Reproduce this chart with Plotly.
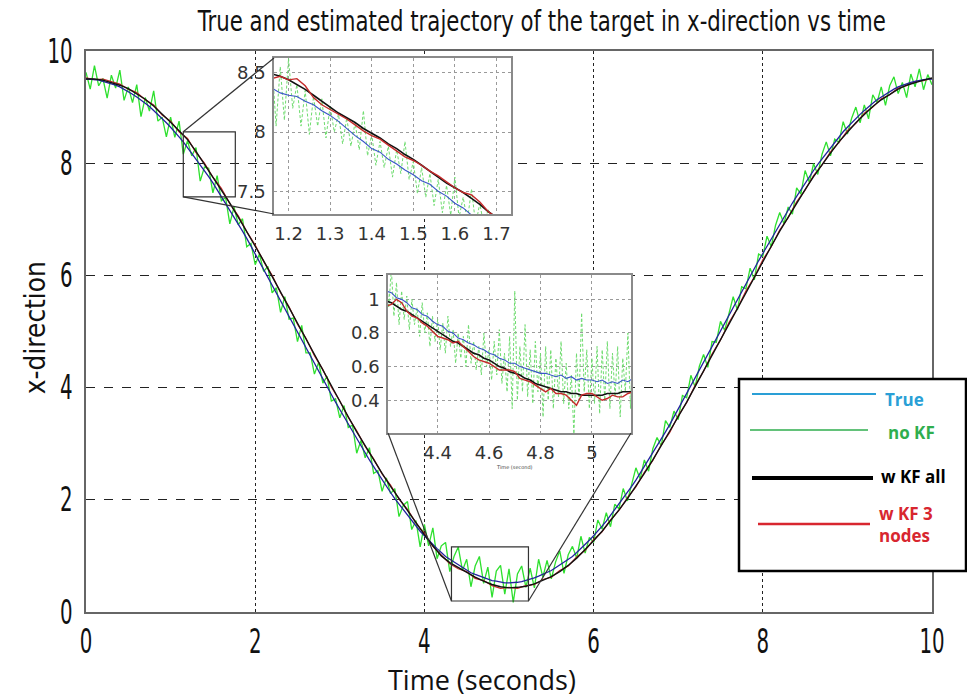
import numpy as np
import plotly.graph_objects as go

W, H = 967, 698

# ---------------- main trajectory (0 .. 10 s) ----------------
# true target position, one sample every 0.05 s
true_x = [
    9.50, 9.50, 9.49, 9.48, 9.46, 9.44, 9.42, 9.39, 9.36, 9.32,
    9.28, 9.23, 9.18, 9.13, 9.07, 9.01, 8.94, 8.87, 8.80, 8.72,
    8.64, 8.56, 8.47, 8.38, 8.28, 8.18, 8.08, 7.98, 7.87, 7.76,
    7.65, 7.53, 7.41, 7.29, 7.17, 7.04, 6.92, 6.79, 6.66, 6.52,
    6.39, 6.26, 6.12, 5.98, 5.84, 5.70, 5.56, 5.42, 5.28, 5.14,
    5.00, 4.86, 4.72, 4.58, 4.44, 4.30, 4.16, 4.02, 3.88, 3.74,
    3.61, 3.48, 3.34, 3.21, 3.08, 2.96, 2.83, 2.71, 2.59, 2.47,
    2.35, 2.24, 2.13, 2.02, 1.92, 1.82, 1.72, 1.62, 1.53, 1.44,
    1.36, 1.28, 1.20, 1.13, 1.06, 0.99, 0.94, 0.89, 0.84, 0.79,
    0.74, 0.70, 0.67, 0.64, 0.61, 0.58, 0.56, 0.55, 0.53, 0.52,
    0.52,
    0.52, 0.53, 0.54, 0.56, 0.58, 0.61, 0.64, 0.67, 0.70, 0.74,
    0.79, 0.84, 0.89, 0.94, 0.99, 1.06, 1.13, 1.20, 1.28, 1.36,
    1.44, 1.53, 1.62, 1.72, 1.82, 1.92, 2.02, 2.13, 2.24, 2.35,
    2.47, 2.59, 2.71, 2.83, 2.96, 3.08, 3.21, 3.34, 3.48, 3.61,
    3.74, 3.88, 4.02, 4.16, 4.30, 4.44, 4.58, 4.72, 4.86, 5.00,
    5.14, 5.28, 5.42, 5.56, 5.70, 5.84, 5.98, 6.12, 6.26, 6.39,
    6.52, 6.66, 6.79, 6.92, 7.04, 7.17, 7.29, 7.41, 7.53, 7.65,
    7.76, 7.87, 7.98, 8.08, 8.18, 8.28, 8.38, 8.47, 8.56, 8.64,
    8.72, 8.80, 8.87, 8.94, 9.01, 9.07, 9.13, 9.18, 9.23, 9.28,
    9.32, 9.36, 9.39, 9.42, 9.44, 9.46, 9.48, 9.49, 9.50, 9.50,
]

# raw measurement error (no KF), same 0.05 s samples
noKF_err = [
    0.12, -0.18, 0.25, -0.1, 0.05, -0.28, 0.15, -0.05, 0.3, -0.2, 0.08, -0.15, 0.22, -0.3, 0.1, -0.08, 0.35, -0.12, 0.02, -0.25,
    0.18, -0.1, 0.28, -0.22, 0.12, -0.05, 0.2, -0.3, 0.06, 0.15, -0.18, 0.25, -0.08, 0.1, -0.25, 0.18, -0.02, 0.22, -0.15, 0.05,
    -0.2, 0.12, -0.05, 0.18, -0.15, 0.08, -0.22, 0.2, -0.06, 0.1, -0.18, 0.25, -0.1, 0.04, -0.2, 0.15, -0.08, 0.18, -0.12, 0.06,
    -0.15, 0.2, -0.05, 0.12, -0.25, 0.1, -0.08, 0.22, -0.12, 0.05, -0.2, 0.15, -0.02, 0.18, -0.22, 0.08, 0.25, -0.15, 0.1, -0.28,
    0.2, -0.1, 0.3, -0.18, 0.12, 0.25, -0.22, 0.1, 0.32, -0.05, 0.2, -0.25, 0.15, 0.35, -0.1, 0.22, -0.3, 0.18, 0.3, -0.2,
    0.25, -0.35, 0.15, 0.28, -0.12, 0.2, -0.18, 0.3, -0.05, 0.22, -0.15, 0.1, 0.25, -0.2, 0.08, 0.18, -0.1, 0.22, -0.15, 0.05,
    -0.12, 0.2, -0.05, 0.15, -0.2, 0.1, -0.08, 0.18, -0.15, 0.05, 0.22, -0.1, 0.12, -0.2, 0.08, 0.15, -0.12, 0.2, -0.05, 0.1,
    -0.18, 0.12, -0.06, 0.2, -0.15, 0.08, 0.15, -0.22, 0.1, -0.05, 0.18, -0.12, 0.06, 0.2, -0.18, 0.1, -0.08, 0.15, -0.2, 0.12,
    -0.05, 0.18, -0.15, 0.1, 0.2, -0.12, 0.05, -0.2, 0.15, -0.08, 0.22, -0.1, 0.12, -0.18, 0.08, 0.2, -0.15, 0.05, -0.1, 0.18,
    -0.12, 0.08, 0.2, -0.15, 0.1, -0.22, 0.15, -0.05, 0.18, -0.2, 0.1, 0.22, -0.12, 0.05, -0.25, 0.15, -0.1, 0.2, -0.18, 0.08,
    -0.1,
]

# Kalman filter estimates, one sample every 0.1 s
kf_all_x = [
    9.50, 9.50, 9.48, 9.44, 9.39, 9.33, 9.24, 9.14, 9.02, 8.88,
    8.73, 8.58, 8.42, 8.21, 7.98, 7.76, 7.53, 7.29, 7.04, 6.79,
    6.52, 6.26, 5.98, 5.70, 5.42, 5.14, 4.86, 4.58, 4.30, 4.02,
    3.74, 3.48, 3.21, 2.96, 2.71, 2.47, 2.24, 2.02, 1.81, 1.60,
    1.38, 1.18, 1.00, 0.88, 0.79, 0.70, 0.62, 0.55, 0.49, 0.45,
    0.43, 0.44, 0.46, 0.50, 0.56, 0.63, 0.72, 0.83, 0.96, 1.11,
    1.27, 1.44, 1.62, 1.82, 2.02, 2.24, 2.47, 2.71, 2.96, 3.21,
    3.48, 3.74, 4.02, 4.30, 4.58, 4.86, 5.14, 5.42, 5.70, 5.98,
    6.26, 6.52, 6.79, 7.04, 7.29, 7.53, 7.76, 7.98, 8.18, 8.38,
    8.56, 8.72, 8.87, 9.01, 9.13, 9.23, 9.32, 9.39, 9.44, 9.48,
    9.52,
]
kf3_x = [
    9.52, 9.49, 9.50, 9.45, 9.41, 9.32, 9.26, 9.13, 9.04, 8.86,
    8.75, 8.56, 8.44, 8.19, 8.00, 7.75, 7.55, 7.28, 7.06, 6.78,
    6.54, 6.25, 6.00, 5.69, 5.44, 5.13, 4.88, 4.57, 4.32, 4.01,
    3.76, 3.47, 3.23, 2.95, 2.73, 2.46, 2.26, 2.01, 1.83, 1.59,
    1.40, 1.17, 1.01, 0.86, 0.77, 0.72, 0.60, 0.56, 0.47, 0.42,
    0.44, 0.42, 0.47, 0.49, 0.58, 0.62, 0.74, 0.82, 0.98, 1.10,
    1.29, 1.43, 1.64, 1.81, 2.04, 2.23, 2.49, 2.70, 2.98, 3.20,
    3.50, 3.73, 4.04, 4.29, 4.60, 4.85, 5.16, 5.41, 5.72, 5.97,
    6.28, 6.51, 6.81, 7.03, 7.31, 7.52, 7.78, 7.97, 8.20, 8.37,
    8.58, 8.71, 8.89, 9.00, 9.15, 9.22, 9.34, 9.38, 9.46, 9.47,
    9.51,
]

# ---------------- detail window 1 (1.16 .. 1.74 s) ----------------
w1_true = [8.37, 8.33, 8.31, 8.30, 8.26, 8.23, 8.18, 8.14, 8.09, 8.03,
           7.97, 7.92, 7.86, 7.83, 7.77, 7.73, 7.68, 7.64, 7.59, 7.56,
           7.50, 7.46, 7.40, 7.36, 7.30, 7.27, 7.21, 7.18, 7.12, 7.09]
w1_kf_all = [8.49, 8.47, 8.44, 8.40, 8.36, 8.31, 8.26, 8.21, 8.16, 8.12,
             8.08, 8.03, 7.99, 7.95, 7.90, 7.86, 7.81, 7.77, 7.72, 7.67,
             7.62, 7.57, 7.53, 7.49, 7.44, 7.39, 7.33, 7.28, 7.23, 7.18]
w1_kf3 = [8.45, 8.47, 8.44, 8.45, 8.39, 8.29, 8.23, 8.19, 8.15, 8.11,
          8.06, 8.01, 7.97, 7.94, 7.89, 7.84, 7.79, 7.76, 7.72, 7.67,
          7.63, 7.58, 7.53, 7.49, 7.47, 7.41, 7.33, 7.28, 7.23, 7.18]
w1_noKF = [8.60, 8.05, 8.55, 8.10, 8.62, 8.20, 8.40, 8.05, 8.35, 7.98,
           8.30, 8.05, 8.28, 7.95, 8.22, 8.00, 8.15, 7.90, 8.12, 7.88,
           8.08, 7.85, 8.18, 7.80, 7.98, 7.72, 7.92, 7.70, 7.88, 7.62,
           7.85, 7.65, 7.92, 7.60, 7.75, 7.48, 7.70, 7.45, 7.65, 7.38,
           7.60, 7.32, 7.55, 7.30, 7.62, 7.28, 7.45, 7.25, 7.52, 7.22,
           7.40, 7.20, 7.35, 7.15, 7.30, 7.10, 7.25, 7.08, 7.20]

# ---------------- detail window 2 (4.20 .. 5.16 s) ----------------
w2_true = [1.05, 1.04, 1.01, 1.00, 0.98, 0.95, 0.94, 0.91, 0.90, 0.87,
           0.85, 0.84, 0.81, 0.80, 0.77, 0.76, 0.74, 0.73, 0.71, 0.70,
           0.68, 0.67, 0.65, 0.64, 0.62, 0.62, 0.60, 0.59, 0.58, 0.57,
           0.56, 0.56, 0.55, 0.54, 0.55, 0.53, 0.54, 0.52, 0.53, 0.52,
           0.52, 0.51, 0.52, 0.50, 0.51, 0.50, 0.52, 0.51, 0.53]
w2_kf_all = [0.99, 0.98, 0.96, 0.94, 0.93, 0.91, 0.89, 0.87, 0.85, 0.83,
             0.81, 0.79, 0.77, 0.75, 0.74, 0.72, 0.70, 0.68, 0.67, 0.65,
             0.64, 0.62, 0.60, 0.59, 0.57, 0.56, 0.55, 0.53, 0.52, 0.50,
             0.49, 0.48, 0.47, 0.46, 0.45, 0.45, 0.44, 0.44, 0.43, 0.43,
             0.43, 0.43, 0.43, 0.44, 0.44, 0.44, 0.45, 0.45, 0.45]
w2_kf3 = [0.96, 0.97, 1.00, 0.98, 0.93, 0.90, 0.89, 0.86, 0.84, 0.81,
          0.78, 0.77, 0.76, 0.74, 0.75, 0.72, 0.69, 0.66, 0.64, 0.63,
          0.62, 0.60, 0.58, 0.58, 0.58, 0.57, 0.53, 0.52, 0.51, 0.49,
          0.47, 0.45, 0.47, 0.44, 0.44, 0.43, 0.40, 0.37, 0.43, 0.44,
          0.44, 0.42, 0.40, 0.41, 0.43, 0.42, 0.42, 0.44, 0.45]
w2_noKF = [1.15, 0.95, 1.18, 0.90, 1.10, 0.85, 1.05, 0.88, 1.02, 0.82,
           1.00, 0.85, 0.95, 0.78, 0.98, 0.80, 0.92, 0.72, 0.90, 0.75,
           0.88, 0.70, 0.86, 0.68, 0.90, 0.72, 0.82, 0.62, 0.80, 0.65,
           0.78, 0.60, 0.85, 0.62, 0.75, 0.58, 0.72, 0.55, 0.80, 0.60,
           0.70, 0.52, 0.75, 0.55, 0.82, 0.50, 0.68, 0.45, 0.78, 0.35,
           1.05, 0.40, 0.72, 0.45, 0.85, 0.42, 0.70, 0.38, 0.75, 0.45,
           0.68, 0.30, 0.72, 0.40, 0.70, 0.35, 0.65, 0.42, 0.75, 0.38,
           0.62, 0.35, 0.55, 0.20, 0.68, 0.40, 0.92, 0.45, 0.70, 0.35,
           0.65, 0.38, 0.72, 0.32, 0.70, 0.40, 0.75, 0.35, 0.68, 0.42,
           0.72, 0.30, 0.65, 0.45, 0.80, 0.35, 0.78]

# axis ranges of the two magnified views and their source boxes
w1_xrange, w1_yrange = [1.165, 1.735], [7.309, 8.624]
w2_xrange, w2_yrange = [4.207, 5.152], [0.205, 1.145]
box1 = dict(x0=1.15, x1=1.765, y0=7.40, y1=8.56)
box2 = dict(x0=4.32, x1=5.23, y0=0.196, y1=1.16)

# ---------------- time bases ----------------
t_fine = np.round(np.arange(len(true_x)) * 0.05, 3)
t_coarse = np.round(np.arange(len(kf_all_x)) * 0.1, 3)
noKF_x = np.array(true_x) + np.array(noKF_err)
t_w1 = 1.16 + 0.02 * np.arange(len(w1_true))
t_w1n = 1.16 + 0.01 * np.arange(len(w1_noKF))
t_w2 = 4.20 + 0.02 * np.arange(len(w2_true))
t_w2n = 4.20 + 0.01 * np.arange(len(w2_noKF))

NARROW = "DejaVu Sans, sans-serif"
C_TRUE_MAIN = "#22229e"
C_TRUE_WIN = "#3a55c8"
C_NOKF = "#2ee02e"
C_NOKF_WIN = "#6fdc6f"
C_KF3 = "#c42a2a"


def px(x):
    return x / W


def py(y):
    return 1 - y / H


fig = go.Figure()

# main plot traces
fig.add_trace(go.Scatter(x=t_fine, y=noKF_x, mode="lines", line=dict(color=C_NOKF, width=1.3),
                         xaxis="x", yaxis="y", showlegend=False))
fig.add_trace(go.Scatter(x=t_coarse, y=kf3_x, mode="lines", line=dict(color=C_KF3, width=1.2),
                         xaxis="x", yaxis="y", showlegend=False))
fig.add_trace(go.Scatter(x=t_fine, y=true_x, mode="lines", line=dict(color=C_TRUE_MAIN, width=1.3),
                         xaxis="x", yaxis="y", showlegend=False))
fig.add_trace(go.Scatter(x=t_coarse, y=kf_all_x, mode="lines", line=dict(color="#111111", width=1.4),
                         xaxis="x", yaxis="y", showlegend=False))

# magnified views
for xa, ya, tn, gn, tt, tr, ka, k3 in [
    ("x2", "y2", t_w1n, w1_noKF, t_w1, w1_true, w1_kf_all, w1_kf3),
    ("x3", "y3", t_w2n, w2_noKF, t_w2, w2_true, w2_kf_all, w2_kf3),
]:
    fig.add_trace(go.Scatter(x=tn, y=gn, mode="lines", line=dict(color=C_NOKF_WIN, width=1, dash="3px,2px"),
                             xaxis=xa, yaxis=ya, showlegend=False))
    fig.add_trace(go.Scatter(x=tt, y=tr, mode="lines", line=dict(color=C_TRUE_WIN, width=1.1),
                             xaxis=xa, yaxis=ya, showlegend=False))
    fig.add_trace(go.Scatter(x=tt, y=ka, mode="lines", line=dict(color="#111111", width=1.6),
                             xaxis=xa, yaxis=ya, showlegend=False))
    fig.add_trace(go.Scatter(x=tt, y=k3, mode="lines", line=dict(color=C_KF3, width=1.4),
                             xaxis=xa, yaxis=ya, showlegend=False))

# main plot area in pixels
MX0, MX1, MY0, MY1 = 86, 932, 51, 612
W1 = (274, 511, 58, 214)
W2 = (388, 631, 275, 433)

main_tick = dict(family=NARROW, size=33, color="#111111")
win_tick = dict(family=NARROW, size=18, color="#333333")

common = dict(showline=True, mirror=True, ticks="", zeroline=False, automargin=False, gridwidth=1)
fig.update_layout(
    width=W, height=H,
    margin=dict(l=0, r=0, t=0, b=0, autoexpand=False),
    paper_bgcolor="white", plot_bgcolor="white",
    xaxis=dict(domain=[px(MX0), px(MX1)], range=[0, 10], tickvals=[0, 2, 4, 6, 8, 10],
               showgrid=True, gridcolor="#222222", griddash="dot",
               linecolor="#666666", linewidth=1.5,
               tickfont=main_tick, ticklabelstandoff=0, anchor="y", **common),
    yaxis=dict(domain=[py(MY1), py(MY0)], range=[0, 10], tickvals=[0, 2, 4, 6, 8, 10],
               showgrid=True, gridcolor="#222222", griddash="dash",
               linecolor="#666666", linewidth=1.5,
               tickfont=main_tick, ticklabelstandoff=5, anchor="x", **common),
    xaxis2=dict(domain=[px(W1[0]), px(W1[1])], range=w1_xrange, tickvals=[1.2, 1.3, 1.4, 1.5, 1.6, 1.7],
                showgrid=True, gridcolor="#9a9a9a", griddash="dot",
                linecolor="#8a8a8a", linewidth=1.5,
                tickfont=win_tick, ticklabelstandoff=3, anchor="y2", **common),
    yaxis2=dict(domain=[py(W1[3]), py(W1[2])], range=w1_yrange, tickvals=[7.5, 8, 8.5],
                showgrid=True, gridcolor="#9a9a9a", griddash="dot",
                linecolor="#8a8a8a", linewidth=1.5,
                tickfont=win_tick, ticklabelstandoff=3, anchor="x2", **common),
    xaxis3=dict(domain=[px(W2[0]), px(W2[1])], range=w2_xrange, tickvals=[4.4, 4.6, 4.8, 5],
                showgrid=True, gridcolor="#9a9a9a", griddash="dot",
                linecolor="#8a8a8a", linewidth=1.5,
                tickfont=win_tick, ticklabelstandoff=3, anchor="y3", **common),
    yaxis3=dict(domain=[py(W2[3]), py(W2[2])], range=w2_yrange, tickvals=[0.4, 0.6, 0.8, 1],
                showgrid=True, gridcolor="#9a9a9a", griddash="dot",
                linecolor="#8a8a8a", linewidth=1.5,
                tickfont=win_tick, ticklabelstandoff=3, anchor="x3", **common),
)

shapes = []
# opaque backgrounds of the magnified views (cover main grid)
for xa, ya, xr, yr in [("x2", "y2", w1_xrange, w1_yrange), ("x3", "y3", w2_xrange, w2_yrange)]:
    shapes.append(dict(type="rect", xref=xa, yref=ya, x0=xr[0], x1=xr[1], y0=yr[0], y1=yr[1],
                       fillcolor="white", line=dict(width=0), layer="below"))

# source boxes on the main plot
for b in (box1, box2):
    shapes.append(dict(type="rect", xref="x", yref="y", line=dict(color="#333333", width=1.2), **b))


def main_to_px(t, v):
    return (MX0 + (MX1 - MX0) * t / 10.0, MY1 - (MY1 - MY0) * v / 10.0)


# connector lines from boxes to views
b1_tl = main_to_px(box1["x0"], box1["y1"])
b1_bl = main_to_px(box1["x0"], box1["y0"])
b2_bl = main_to_px(box2["x0"], box2["y0"])
b2_br = main_to_px(box2["x1"], box2["y0"])
connectors = [
    (b1_tl, (W1[0], W1[2])),
    (b1_bl, (W1[0], W1[3])),
    (b2_bl, (W2[0], W2[3])),
    (b2_br, (W2[1], W2[3])),
]
for (xa_, ya_), (xb_, yb_) in connectors:
    shapes.append(dict(type="line", xref="paper", yref="paper",
                       x0=px(xa_), y0=py(ya_), x1=px(xb_), y1=py(yb_),
                       line=dict(color="#333333", width=1.2)))

# legend box
shapes.append(dict(type="rect", xref="paper", yref="paper",
                   x0=px(739), x1=px(966), y0=py(571), y1=py(379),
                   fillcolor="white", line=dict(color="#000000", width=2.5)))
legend_items = [
    ("True", "#2a9fd6", 2, 752, 876, 394, 883, 399),
    ("no KF", "#2fae4e", 1.5, 750, 868, 430, 886, 432),
    ("w KF all", "#000000", 4, 752, 873, 478, 879, 476),
    ("w KF 3<br>nodes", "#d8262f", 2.5, 758, 870, 524, 877, 524),
]
annotations = []
for label, col, lw, lx0, lx1, ly, tx, ty in legend_items:
    shapes.append(dict(type="line", xref="paper", yref="paper",
                       x0=px(lx0), x1=px(lx1), y0=py(ly), y1=py(ly),
                       line=dict(color=col, width=lw)))
    annotations.append(dict(text="<b>" + label + "</b>", xref="paper", yref="paper",
                            x=px(tx), y=py(ty), xanchor="left", yanchor="middle", align="left",
                            showarrow=False,
                            font=dict(family="Open Sans, sans-serif", size=17, color=col)))

# titles
annotations += [
    dict(text="True and estimated trajectory of the target in x-direction vs time",
         xref="paper", yref="paper", x=px(541), y=py(21), xanchor="center", yanchor="middle",
         showarrow=False, font=dict(family=NARROW, size=28, color="#111111")),
    dict(text="x-direction", xref="paper", yref="paper", x=px(35), y=py(328),
         xanchor="center", yanchor="middle", textangle=-90, showarrow=False,
         font=dict(family=NARROW, size=29, color="#111111")),
    dict(text="Time (seconds)", xref="paper", yref="paper", x=px(482), y=py(679),
         xanchor="center", yanchor="middle", showarrow=False,
         font=dict(family="Open Sans, sans-serif", size=27, color="#111111")),
    dict(text="Time (second)", xref="paper", yref="paper", x=px(514), y=py(467),
         xanchor="center", yanchor="middle", showarrow=False,
         font=dict(family="DejaVu Sans, sans-serif", size=5, color="#444444")),
]

fig.update_layout(shapes=shapes, annotations=annotations)

# narrow (condensed) lettering for tick labels, title and y-axis title
condense_js = """
var css = document.createElement('style');
css.textContent = [
  '.xtick, .ytick { transform-box: fill-box; transform-origin: 50% 50%; }',
  '.subplot.xy .xtick { transform: scaleX(0.6); }',
  '.subplot.xy .ytick { transform: scaleX(0.6); transform-origin: 100% 50%; }',
  '.subplot.x2y2 .xtick, .subplot.x3y3 .xtick { transform: scaleX(0.66); }',
  '.subplot.x2y2 .ytick, .subplot.x3y3 .ytick { transform: scaleX(0.66); transform-origin: 100% 50%; }'
].join('\\n');
document.head.appendChild(css);
document.querySelectorAll('.annotation-text').forEach(function(el) {
  var s = el.textContent;
  var k = null;
  if (s.indexOf('trajectory') >= 0) { k = 0.76; }
  else if (s === 'x-direction') { k = 0.86; }
  if (k !== null) {
    el.style.transformBox = 'fill-box';
    el.style.transformOrigin = '50% 50%';
    el.style.transform = 'scaleX(' + k + ')';
  }
});
"""

fig.write_html("out.html", post_script=condense_js)
